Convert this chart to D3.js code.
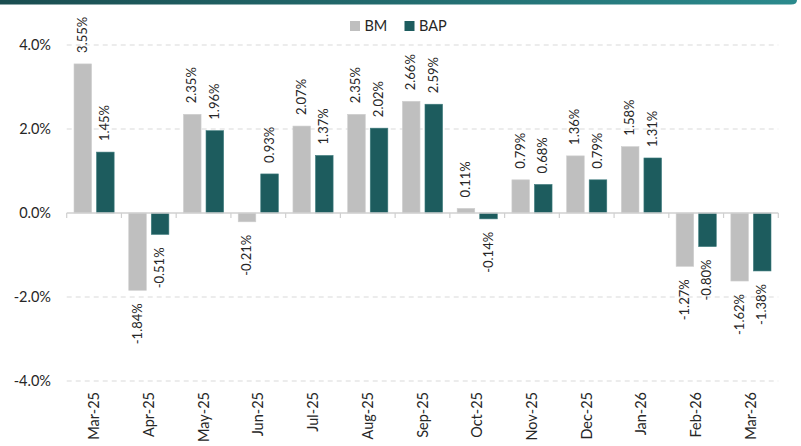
<!DOCTYPE html>
<html>
<head>
<meta charset="utf-8">
<script src="https://cdn.jsdelivr.net/npm/d3@7"></script>
<style>
  body { margin: 0; background: #fff; }
  svg { display: block; font-family: Lato, "Open Sans", sans-serif; }
</style>
</head>
<body>
<div id="chart"></div>
<script>
// data
let months = ['Mar-25', 'Apr-25', 'May-25', 'Jun-25', 'Jul-25', 'Aug-25', 'Sep-25',
    'Oct-25', 'Nov-25', 'Dec-25', 'Jan-26', 'Feb-26', 'Mar-26']
let bm = [3.55, -1.84, 2.35, -0.21, 2.07, 2.35, 2.66, 0.11, 0.79, 1.36, 1.58, -1.27, -1.62]
let bap = [1.45, -0.51, 1.96, 0.93, 1.37, 2.02, 2.59, -0.14, 0.68, 0.79, 1.31, -0.80, -1.38]
let seriesNames = ['BM', 'BAP']
let yTicks = [-4, -2, 0, 2, 4]

function drawChart() {
    let W = 801, H = 446
    let color = {BM: '#bfbfbf', BAP: '#1d5c5e'}
    let textCol = '#262626'
    // plain hyphen instead of d3's unicode minus
    let pct = (f, v) => d3.format(f)(v).replace('\u2212', '-') + '%'

    let svg = d3.select('#chart').append('svg')
        .attr('width', W).attr('height', H)

    // top banner
    let grad = svg.append('defs').append('linearGradient')
        .attr('id', 'band').attr('x1', '0%').attr('x2', '100%')
    grad.append('stop').attr('offset', '0%').attr('stop-color', '#1a4d50')
    grad.append('stop').attr('offset', '100%').attr('stop-color', '#2b8a8d')
    svg.append('path')
        .attr('d', 'M0,0 H797 V0 Q797,4.5 791,4.5 H0 Z')
        .attr('fill', 'url(#band)')

    let scX = d3.scaleBand().domain(months).range([66.7, 778.3])
    let scY = d3.scaleLinear().domain([-4, 4]).range([381, 45])
    let scS = d3.scaleBand().domain(seriesNames)
        .range([7.3, scX.bandwidth() - 7.3]).paddingInner(0.22)

    // dashed grid
    svg.append('g').selectAll('line')
        .data(yTicks.filter(d => d !== 0))
        .enter().append('line')
        .attr('x1', scX.range()[0]).attr('x2', scX.range()[1])
        .attr('y1', d => scY(d)).attr('y2', d => scY(d))
        .attr('stroke', '#d9d9d9').attr('stroke-width', 1.2)
        .attr('stroke-dasharray', '5,4')

    // y axis labels
    let yAxis = d3.axisLeft(scY).tickValues(yTicks)
        .tickFormat(d => pct('.1f', d)).tickSize(0).tickPadding(0)
    let gy = svg.append('g').attr('transform', 'translate(51,0)').call(yAxis)
    gy.select('.domain').remove()
    gy.selectAll('text').attr('font-size', 14.5).attr('fill', textCol)
        .attr('font-family', 'Lato, "Open Sans", sans-serif')

    // bars
    let rows = months.map((m, i) => ({month: m, BM: bm[i], BAP: bap[i]}))
    let groups = svg.append('g').selectAll('g')
        .data(rows).enter().append('g')
        .attr('transform', d => `translate(${scX(d.month)},0)`)

    groups.selectAll('rect')
        .data(d => seriesNames.map(s => ({s: s, v: d[s]})))
        .enter().append('rect')
        .attr('x', d => scS(d.s))
        .attr('width', scS.bandwidth())
        .attr('y', d => scY(Math.max(0, d.v)))
        .attr('height', d => Math.abs(scY(d.v) - scY(0)))
        .attr('fill', d => color[d.s])
        .attr('stroke', d => d.s === 'BM' ? '#cfcfcf' : '#3f7c7e')
        .attr('stroke-width', 0.6)

    // value labels, rotated
    groups.selectAll('text.val')
        .data(d => seriesNames.map(s => ({s: s, v: d[s]})))
        .enter().append('text')
        .attr('class', 'val')
        .attr('transform', d => {
            let x = scS(d.s) + scS.bandwidth() / 2 + 4
            let y = d.v >= 0 ? scY(d.v) - 11 : scY(d.v) + 13
            return `translate(${x},${y}) rotate(-90)`
        })
        .attr('text-anchor', d => d.v >= 0 ? 'start' : 'end')
        .attr('font-size', 13)
        .attr('fill', textCol)
        .text(d => pct('.2f', d.v))

    // zero line with category ticks
    let xAxis = d3.axisBottom(scX).tickSize(0).tickFormat('')
    let gx = svg.append('g').attr('transform', `translate(0,${scY(0)})`).call(xAxis)
    gx.select('.domain').attr('stroke', '#d0d0d0').attr('stroke-width', 1.3)
        .attr('d', `M${scX.range()[0]},0H${scX.range()[1]}`)
    gx.selectAll('.tick').remove()
    gx.selectAll('line.sep')
        .data(months.concat(['end']))
        .enter().append('line')
        .attr('class', 'sep')
        .attr('x1', (d, i) => scX.range()[0] + i * scX.step())
        .attr('x2', (d, i) => scX.range()[0] + i * scX.step())
        .attr('y1', 0).attr('y2', 5)
        .attr('stroke', '#d0d0d0').attr('stroke-width', 1.2)

    // category labels at bottom
    svg.append('g').selectAll('text')
        .data(months).enter().append('text')
        .attr('transform', d => `translate(${scX(d) + scX.bandwidth() / 2 + 5},392) rotate(-90)`)
        .attr('text-anchor', 'end')
        .attr('font-size', 14.5)
        .attr('fill', textCol)
        .text(d => d)

    // legend
    let leg = svg.append('g')
    let legX = [350, 404.5]
    seriesNames.forEach((s, i) => {
        leg.append('rect').attr('x', legX[i]).attr('y', 21)
            .attr('width', 10).attr('height', 10).attr('fill', color[s])
        leg.append('text').attr('x', legX[i] + 14.5).attr('y', 31)
            .attr('font-size', 14.5).attr('fill', textCol).text(s)
    })
}
drawChart()
</script>
</body>
</html>
